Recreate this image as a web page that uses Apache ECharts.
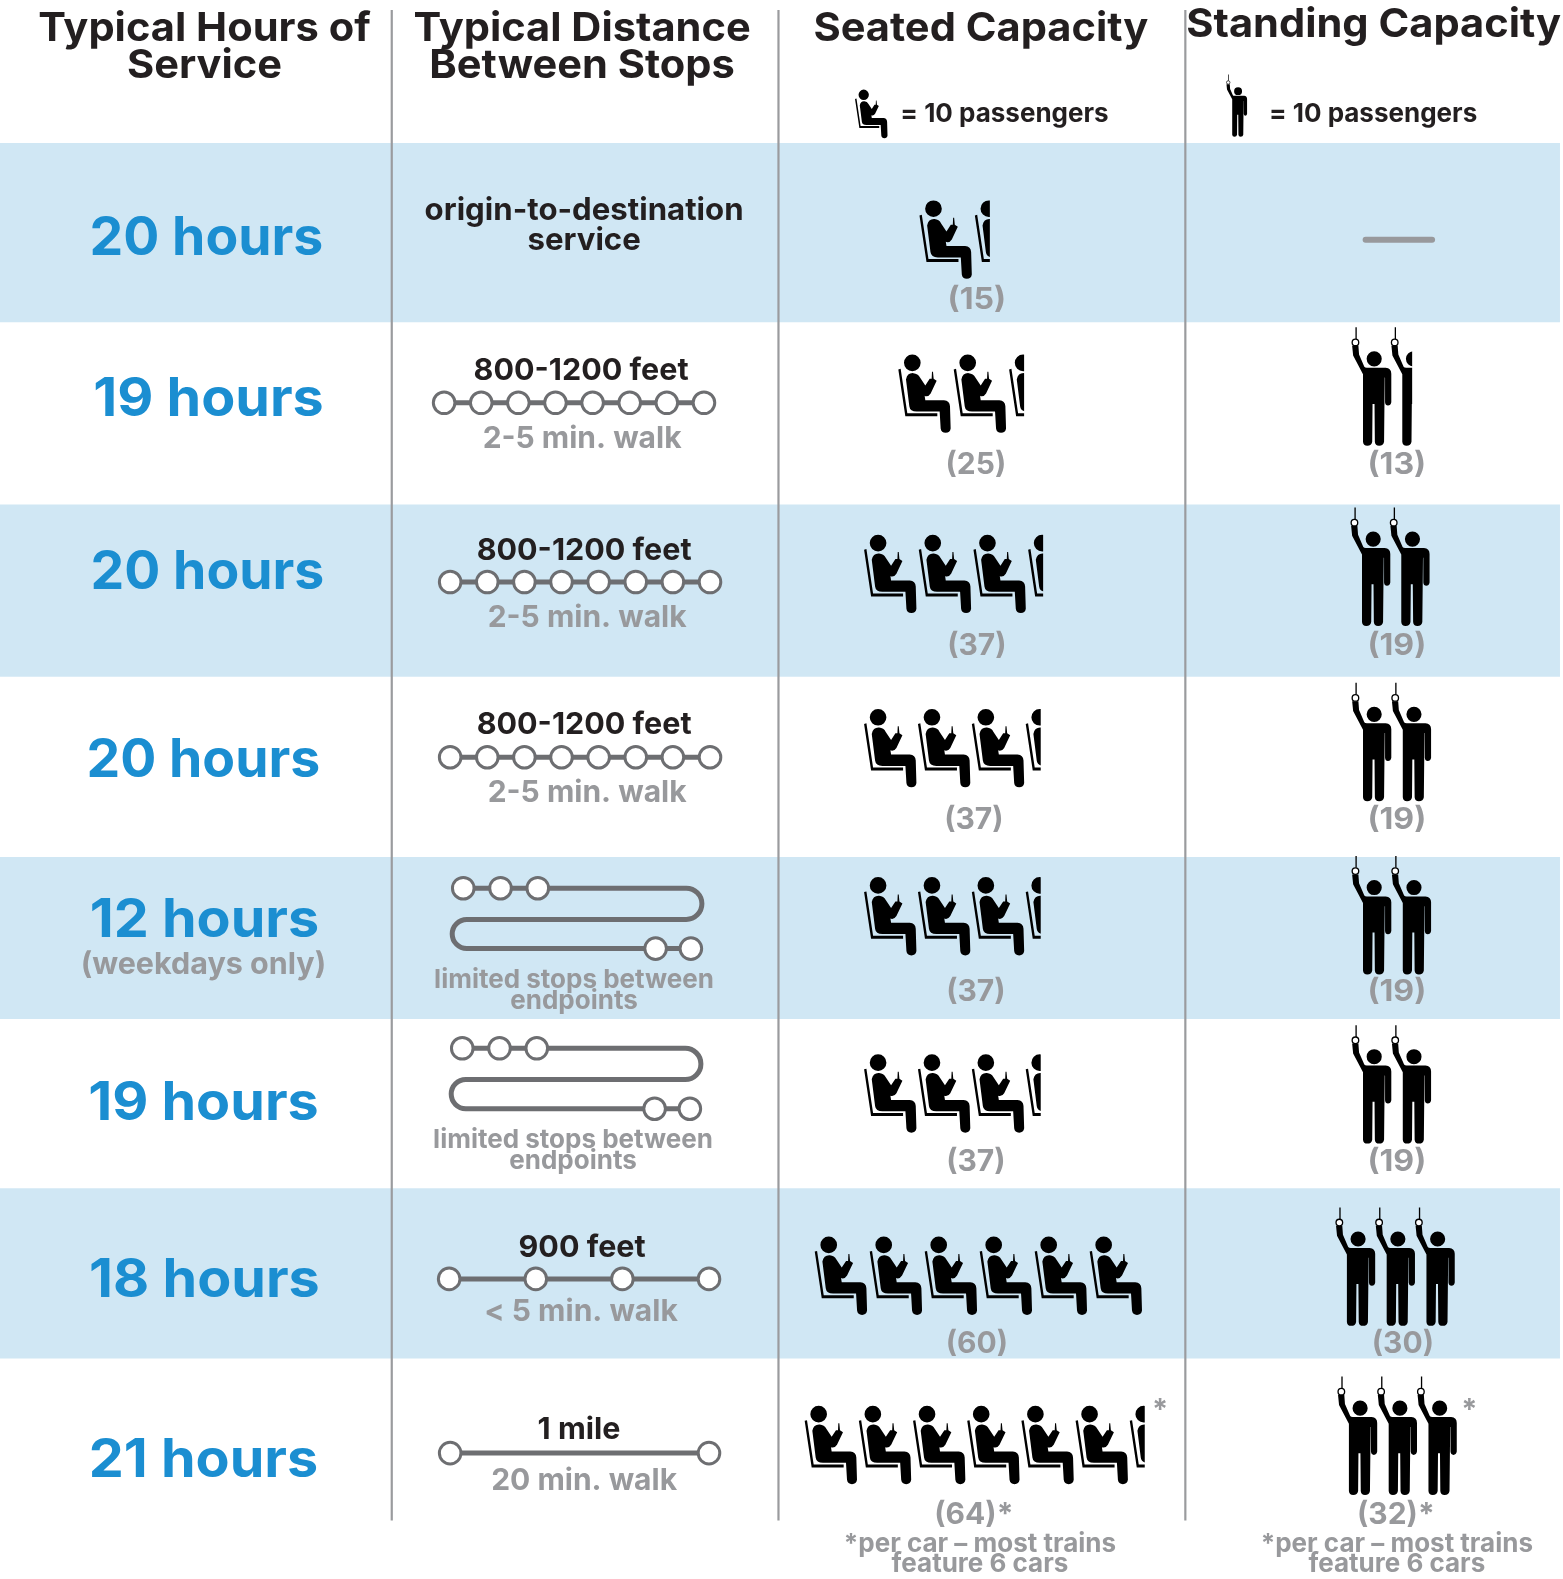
<!DOCTYPE html>
<html><head><meta charset="utf-8">
<style>html,body{margin:0;padding:0;background:#fff}#c{width:1563px;height:1579px}</style>
<script src="https://cdn.jsdelivr.net/npm/echarts@6/dist/echarts.min.js"></script>
</head><body><div id="c"></div>
<script>
// ---------- chart values ----------
var columnHeaders = [['Typical Hours of','Service'],['Typical Distance','Between Stops'],['Seated Capacity'],['Standing Capacity']];
var hoursOfService = [20,19,20,20,12,19,18,21];
var hoursNote = ['','','','','(weekdays only)','','',''];
var distanceLabel = [['origin-to-destination','service'],['800-1200 feet'],['800-1200 feet'],['800-1200 feet'],[],[],['900 feet'],['1 mile']];
var walkLabel = [[],['2-5 min. walk'],['2-5 min. walk'],['2-5 min. walk'],['limited stops between','endpoints'],['limited stops between','endpoints'],['< 5 min. walk'],['20 min. walk']];
var stopCount = [0,8,8,8,0,0,4,2];
var seatedCapacity = [15,25,37,37,37,37,60,64];
var standingCapacity = [0,13,19,19,19,19,30,32];
var perCar = [false,false,false,false,false,false,false,true];
var passengersPerIcon = 10;
var legendText = '= 10 passengers';
var footnote = ['*per car – most trains','feature 6 cars'];

// ---------- layout (axis units) ----------
var BANDS = [[142,320],[501,672],[851,1012],[1180,1349]];
var DIVIDERS = [389,773,1177];
var HEADER_POS = [[[203,27],[203,64]],[[578,27],[578,64]],[[974,27]],[[1364,23]]];
var HOURS_POS = [[205,234],[207,394],[206,566],[202,753],[203,912],[202,1093],[203,1269],[202,1448]];
var DIST_POS = [[580,207,30],[577,366],[580,545],[580,718],null,null,[578,1237],[575,1418]];
var WALK_POS = [null,[578,434],[583,612],[583,785],[570,971,21],[569,1130,21],[577,1301],[580,1469]];
var LINE_POS = [null,[441,699,400],[447,705,578],[447,705,752],null,null,[446,704,1270],[447,704,1443]];
var SERP = [null,null,null,null,{y:[882,913,942],l:449,r:697,a:[460,497,534],b:[651,686]},{y:[1041,1072,1101],l:448,r:696,a:[459,496,533],b:[650,685]},null,null];
var SEAT_POS = [[913,199,55],[892,352,55],[858,531,54.3],[858,704,53.5],[858,871,53.5],[858,1047,53.5],[809,1228,54.6],[799,1396,53.8]];
var STAND_POS = [null,[1341,325,39],[1340,504,39],[1341,678,39.5],[1341,850,39.5],[1341,1018,39.5],[1325,1199,39.5],[1327,1367,39.5]];
var SEAT_LABEL = [[970,296],[969,460],[970,639],[967,812],[969,983],[969,1152],[970,1333],[967,1502]];
var STAND_LABEL = [null,[1387,460],[1387,639],[1387,812],[1387,983],[1387,1152],[1393,1333],[1386,1502]];

var FONT = 'Inter, "Liberation Sans", sans-serif';
var DARK = '#231f20', GREY = '#98999c', LINE = '#6d6e71', BLUE = '#1b8ed1', BAND = '#d0e7f4', DIV = '#9a9b9e';

// ---------- pictograms ----------
var SEAT_PATH = 'M72,68 A25,25 0 1 1 122,68 A25,25 0 1 1 72,68 Z ' +
  'M55,88 L62,86 L82,219 L172,219 L172,228 L76,228 Z ' +
  'M78,118 Q82,98 100,99 Q114,100 120,112 L136,136 L149,116 L155,116 L156,95 L159,95 L161,116 L170,122 L152,160 Q146,170 136,168 L134,167 L136,180 L192,180 Q209,181 210,198 L212,265 Q210,278 197,278 Q184,278 182,265 L179,214 L110,214 Q90,214 88,198 Z';
var STAND_PATH = 'M107,118 A23,23 0 1 1 153,118 A23,23 0 1 1 107,118 Z ' +
  'M73,22 L77,22 L77,58 L73,58 Z ' +
  'M63,78 L82,78 L84,105 L100,142 Q102,145 108,145 L165,145 Q182,147 182,163 L182,250 Q180,260 172,260 Q164,260 163,250 L163,175 L162,175 L160,370 Q158,382 145,382 Q133,382 132,370 L131,255 L125,255 L124,370 Q122,382 109,382 Q97,382 96,370 L96,165 L66,108 Z';

function seatIcon(p, s, half) {
  var el = {type:'path', x:p[0]-55*s, y:p[1]-43*s, scaleX:s, scaleY:s, shape:{pathData:SEAT_PATH}, style:{fill:'#000'}};
  if (half) el.clipPath = {type:'rect', shape:{x:40,y:20,width:60,height:280}};
  return el;
}
function standIcon(p, s, half) {
  var body = {type:'path', x:p[0]-58*s, y:p[1]-22*s, scaleX:s, scaleY:s, shape:{pathData:STAND_PATH}, style:{fill:'#000'}};
  if (half) body.clipPath = {type:'rect', shape:{x:50,y:10,width:76,height:380}};
  var ring = {type:'circle', x:p[0]-58*s, y:p[1]-22*s, scaleX:s, scaleY:s, shape:{cx:73,cy:68,r:10}, style:{fill:'#fff',stroke:'#000',lineWidth:4}};
  return {type:'group', children:[body, ring]};
}
function iconsFor(value) { return Math.round(value / (passengersPerIcon/2)) / 2; }

function txt(api, pos, s, size, color, sx) {
  var c = api.coord([pos[0], pos[1]+2]);
  return {type:'text', x:c[0], y:c[1], scaleX:sx||1, style:{text:s, fill:color, font:'700 '+size+'px '+FONT, align:'center', verticalAlign:'middle'}};
}
function seq(n){var a=[];for(var i=0;i<n;i++)a.push([i,i]);return a;}
function custom(n, render, z){
  return {type:'custom', coordinateSystem:'cartesian2d', clip:false, silent:true, z:z||2, data:seq(n), encode:{x:0,y:1},
    renderItem:function(params, api){ return {type:'group', children:render(params.dataIndex, api)}; }};
}
function stopCircle(api, x, y){
  var c = api.coord([x,y]);
  return {type:'circle', shape:{cx:c[0],cy:c[1],r:10.8}, style:{fill:'#fff',stroke:LINE,lineWidth:3}, z2:3};
}
function labelScale(v){ return String(v).indexOf('1')>=0 ? 1.07 : 1; }

var series = [
  custom(BANDS.length, function(i, api){
    var a = api.coord([0,BANDS[i][0]]), b = api.coord([1549,BANDS[i][1]]);
    return [{type:'rect', shape:{x:a[0],y:a[1],width:b[0]-a[0],height:b[1]-a[1]}, style:{fill:BAND}}];
  },1),
  custom(DIVIDERS.length, function(i, api){
    var a = api.coord([DIVIDERS[i],10]), b = api.coord([DIVIDERS[i],1510]);
    return [{type:'line', shape:{x1:a[0],y1:a[1],x2:b[0],y2:b[1]}, style:{stroke:DIV,lineWidth:2.2}}];
  },2),
  custom(columnHeaders.length, function(i, api){
    return columnHeaders[i].map(function(s,j){ return txt(api, HEADER_POS[i][j], s, 40, DARK, 1.04); });
  },3),
  custom(2, function(i, api){
    var isSeat = i===0, x = isSeat?894:1260;
    var c = api.coord([x,113]);
    var lead = isSeat ? seatIcon(api.coord([849,89]), 0.207) : standIcon(api.coord([1217,74]), 0.173);
    return [lead, {type:'text', x:c[0], y:c[1], style:{text:legendText, fill:DARK, font:'700 26px '+FONT, align:'left', verticalAlign:'middle'}}];
  },3),
  custom(hoursOfService.length, function(i, api){
    var h = hoursOfService[i];
    var out = [txt(api, [HOURS_POS[i][0], HOURS_POS[i][1]+1], h+' hours', 53, BLUE, String(h).indexOf('1')>=0?1.05:1.01)];
    if (hoursNote[i]) out.push(txt(api, [HOURS_POS[i][0]-1, HOURS_POS[i][1]+44], hoursNote[i], 30.5, GREY));
    return out;
  },3),
  custom(hoursOfService.length, function(i, api){
    var out = [], p = DIST_POS[i], w = WALK_POS[i], k;
    if (p) distanceLabel[i].forEach(function(s,j){ out.push(txt(api,[p[0],p[1]+j*(p[2]||0)], s, i===0?31.2:30.5, DARK)); });
    if (w) walkLabel[i].forEach(function(s,j){ out.push(txt(api,[w[0],w[1]+j*(w[2]||0)], s, w[2]?26:30, GREY)); });
    var l = LINE_POS[i];
    if (l) {
      var a = api.coord([l[0],l[2]]), b = api.coord([l[1],l[2]]);
      out.push({type:'line', shape:{x1:a[0],y1:a[1],x2:b[0],y2:b[1]}, style:{stroke:LINE,lineWidth:5}});
      for (k=0;k<stopCount[i];k++) out.push(stopCircle(api, l[0]+(l[1]-l[0])*k/(stopCount[i]-1), l[2]));
    }
    var sp = SERP[i];
    if (sp) {
      var P = function(x,y){ var c = api.coord([x,y]); return c[0].toFixed(1)+','+c[1].toFixed(1); };
      var rr = (sp.y[1]-sp.y[0])/2, rl=(sp.y[2]-sp.y[1])/2, kr=rr*0.45, kl=rl*0.45;
      var d = 'M'+P(sp.a[0],sp.y[0])+' L'+P(sp.r-rr,sp.y[0])+
              ' C'+P(sp.r-rr+rr*0.55,sp.y[0])+' '+P(sp.r,sp.y[0]+kr)+' '+P(sp.r,sp.y[0]+rr)+
              ' C'+P(sp.r,sp.y[1]-kr)+' '+P(sp.r-rr+rr*0.55,sp.y[1])+' '+P(sp.r-rr,sp.y[1])+
              ' L'+P(sp.l+rl,sp.y[1])+
              ' C'+P(sp.l+rl-rl*0.55,sp.y[1])+' '+P(sp.l,sp.y[1]+kl)+' '+P(sp.l,sp.y[1]+rl)+
              ' C'+P(sp.l,sp.y[2]-kl)+' '+P(sp.l+rl-rl*0.55,sp.y[2])+' '+P(sp.l+rl,sp.y[2])+
              ' L'+P(sp.b[1],sp.y[2]);
      out.push({type:'path', shape:{pathData:d}, style:{fill:null,stroke:LINE,lineWidth:5}});
      sp.a.forEach(function(x){ out.push(stopCircle(api,x,sp.y[0])); });
      sp.b.forEach(function(x){ out.push(stopCircle(api,x,sp.y[2])); });
    }
    return out;
  },3),
  custom(seatedCapacity.length, function(i, api){
    var n = iconsFor(seatedCapacity[i]), p = SEAT_POS[i], out = [];
    for (var k=0;k<n;k++) out.push(seatIcon(api.coord([p[0]+k*p[2],p[1]]), 1/3, n-k<1));
    out.push(txt(api, SEAT_LABEL[i], '('+seatedCapacity[i]+')'+(perCar[i]?'*':''), 30, GREY, labelScale(seatedCapacity[i])));
    if (perCar[i]) out.push(txt(api,[1152,1398],'*',29,GREY));
    return out;
  },3),
  custom(standingCapacity.length, function(i, api){
    var v = standingCapacity[i], out = [];
    if (!v) {
      var a = api.coord([1356,238]), b = api.coord([1422,238]);
      return [{type:'line', shape:{x1:a[0],y1:a[1],x2:b[0],y2:b[1]}, style:{stroke:GREY,lineWidth:6,lineCap:'round'}}];
    }
    var n = iconsFor(v), p = STAND_POS[i];
    for (var k=0;k<n;k++) out.push(standIcon(api.coord([p[0]+k*p[2],p[1]]), 0.329, n-k<1));
    out.push(txt(api, STAND_LABEL[i], '('+v+')'+(perCar[i]?'*':''), 30, GREY, labelScale(v)));
    if (perCar[i]) out.push(txt(api,[1459,1398],'*',29,GREY));
    return out;
  },3),
  custom(2, function(i, api){
    var cx = i===0?973:1387;
    return footnote.map(function(s,j){ return txt(api,[cx,1531+j*20],s,26,GREY); });
  },3)
];

var chart = echarts.init(document.getElementById('c'), null, {renderer:'canvas', width:1563, height:1579});
chart.setOption({
  animation:false,
  backgroundColor:'#fff',
  grid:{left:0,right:0,top:0,bottom:0},
  xAxis:{type:'value',min:0,max:1552,show:false},
  yAxis:{type:'value',min:0,max:1568,inverse:true,show:false},
  series:series
});
</script></body></html>
